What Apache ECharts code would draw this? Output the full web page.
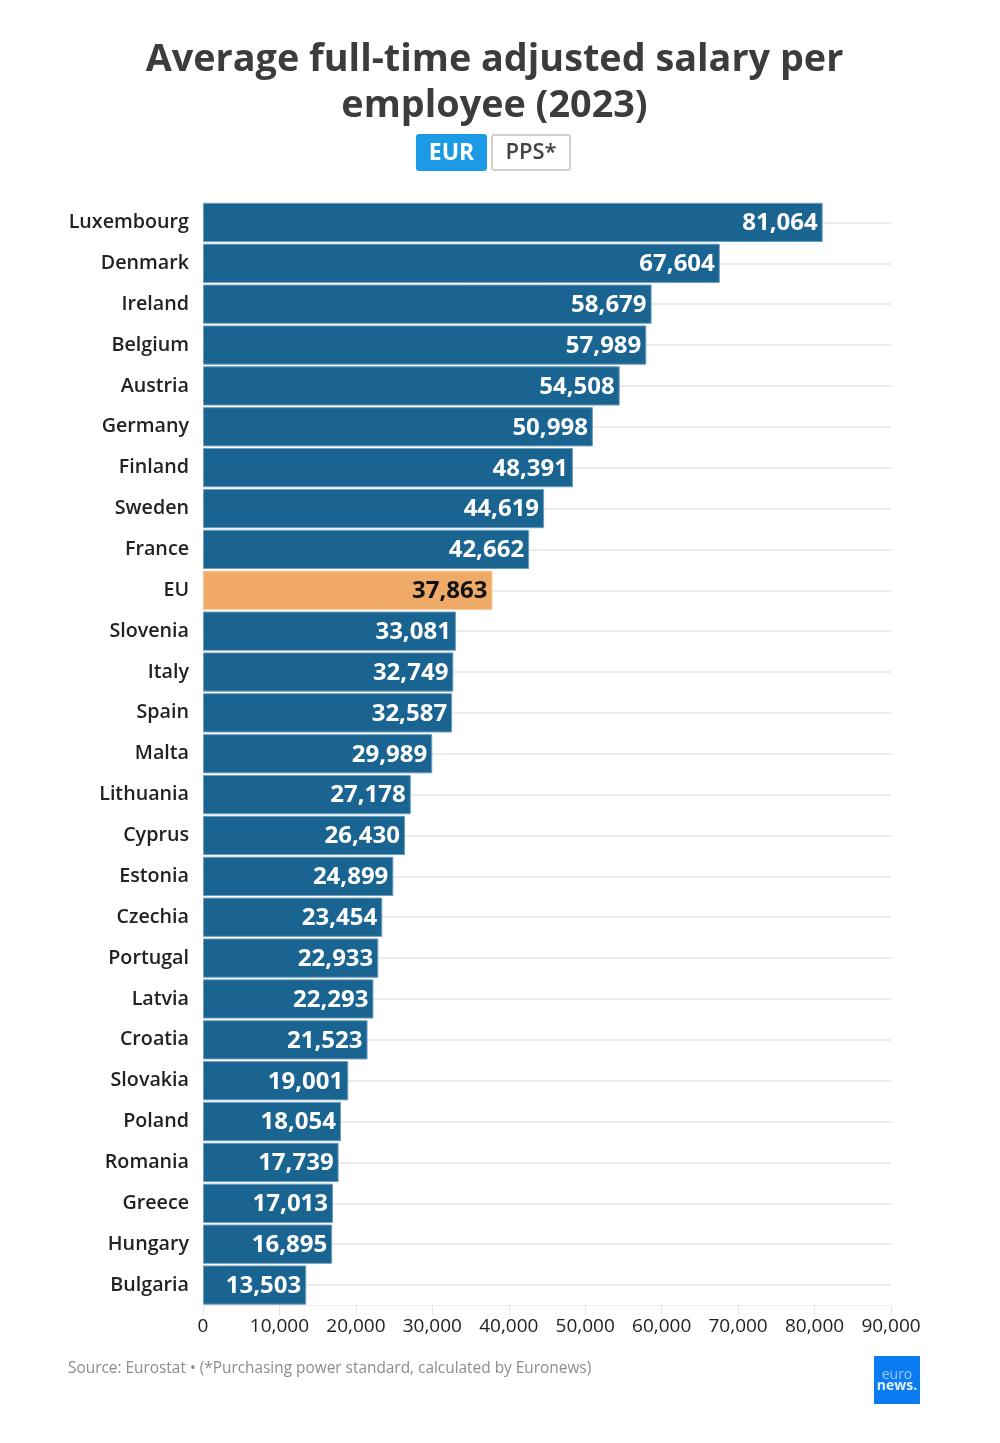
<!DOCTYPE html>
<html><head><meta charset="utf-8">
<style>html,body{margin:0;padding:0;background:#fff}#c{width:1000px;height:1443px}</style>
<script src="https://cdn.jsdelivr.net/npm/echarts@6/dist/echarts.min.js"></script>
</head><body><div id="c"></div>
<script>
const categories = ["Luxembourg","Denmark","Ireland","Belgium","Austria","Germany","Finland","Sweden","France","EU","Slovenia","Italy","Spain","Malta","Lithuania","Cyprus","Estonia","Czechia","Portugal","Latvia","Croatia","Slovakia","Poland","Romania","Greece","Hungary","Bulgaria"];
const salaryEur = [81064,67604,58679,57989,54508,50998,48391,44619,42662,37863,33081,32749,32587,29989,27178,26430,24899,23454,22933,22293,21523,19001,18054,17739,17013,16895,13503];
const highlighted = "EU";
const titleLines = "Average full-time adjusted salary per\nemployee (2023)";
const sourceText = "Source: Eurostat • (*Purchasing power standard, calculated by Euronews)";
const FONT = '"Open Sans"';
const chart = echarts.init(document.getElementById('c'), null, {renderer:'canvas'});
chart.setOption({
  animation:false,
  backgroundColor:'#fff',
  title:{text:titleLines,left:489.5,top:32,textAlign:'center',
    textStyle:{fontFamily:FONT,fontSize:37.8,fontWeight:700,color:'#3c3c3c',lineHeight:46}},
  grid:{left:203,top:202,width:688,height:1103.5,containLabel:false},
  xAxis:{type:'value',min:0,max:90000,interval:10000,position:'bottom',
    axisLine:{show:true,lineStyle:{color:'#ececec',width:1}},splitLine:{show:false},
    axisTick:{show:true,length:10,lineStyle:{color:'#e6e6e6',width:1}},
    axisLabel:{fontFamily:FONT,fontSize:19,color:'#222',margin:12,
      formatter:v=>v.toLocaleString('en-US')}},
  yAxis:{type:'category',data:categories,inverse:true,
    axisLine:{show:false},axisTick:{show:false},
    splitLine:{show:true,alignWithLabel:true,lineStyle:{color:'#ececec',width:2}},
    axisLabel:{fontFamily:FONT,fontSize:19.7,fontWeight:600,color:'#222',margin:14,padding:[2,0,0,0]}},
  series:[{type:'bar',barCategoryGap:'4%',
    data:salaryEur.map((v,i)=>{
      const eu=categories[i]===highlighted;
      return {value:v,
        itemStyle:eu?{color:'#efaa67',borderColor:'#f5c795',borderWidth:1}:{color:'#1a6491',borderColor:'#6b9dbc',borderWidth:1},
        label:{color:eu?'#111':'#fff'}};
    }),
    label:{show:true,position:'insideRight',distance:5,offset:[0,1],fontFamily:FONT,fontSize:24,fontWeight:700,
      formatter:p=>p.value.toLocaleString('en-US')}
  }],
  graphic:[
    {type:'rect',shape:{x:416,y:134,width:71,height:37,r:3},style:{fill:'#1c9ae6'}},
    {type:'text',style:{x:451.5,y:153.5,text:'EUR',align:'center',verticalAlign:'middle',fontFamily:FONT,fontSize:23,fontWeight:700,fill:'#fff'}},
    {type:'rect',shape:{x:492,y:135,width:78,height:35,r:2},style:{fill:'#fff',stroke:'#d0d0d0',lineWidth:2}},
    {type:'text',style:{x:531,y:153,text:'PPS*',align:'center',verticalAlign:'middle',fontFamily:FONT,fontSize:22,fontWeight:600,fill:'#444'}},
    {type:'text',style:{x:68,y:1369,text:sourceText,align:'left',verticalAlign:'middle',fontFamily:FONT,fontSize:15.4,fill:'#8c8c8c'}},
    {type:'rect',shape:{x:874,y:1356,width:46,height:48},style:{fill:'#0a7bf0'}},
    {type:'text',style:{x:897,y:1375,text:'euro',align:'center',verticalAlign:'middle',fontFamily:FONT,fontSize:14,fill:'#9cc8f8'}},
    {type:'text',style:{x:897,y:1386,text:'news.',align:'center',verticalAlign:'middle',fontFamily:FONT,fontSize:14,fontWeight:700,fill:'#e4f0fd'}}
  ]
});
</script></body></html>
